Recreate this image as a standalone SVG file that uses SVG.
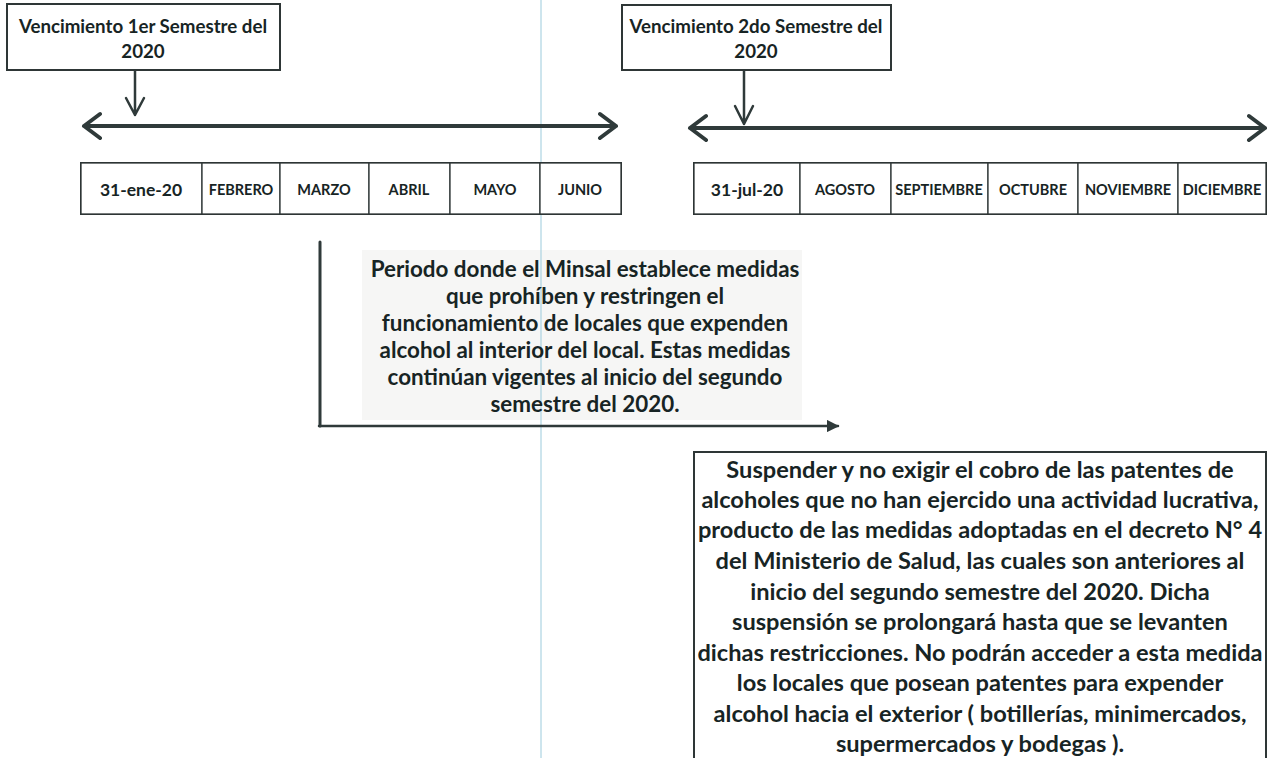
<svg xmlns="http://www.w3.org/2000/svg" width="1269" height="758" viewBox="0 0 1269 758">
<style>
  text { font-family: Lato, "Open Sans", "Liberation Sans", sans-serif; font-weight: bold; fill: #172424; text-anchor: middle; }
  .title { font-size: 18.7px; }
  .date { font-size: 17.5px; }
  .month { font-size: 14.5px; }
  .mid { font-size: 22.4px; }
  .body { font-size: 23.6px; }
  .box { fill: #ffffff; stroke: #2e3636; stroke-width: 2; }
  .cell { fill: #ffffff; stroke: #2e3636; stroke-width: 1.3; }
  .arr { stroke: #2f3a3a; fill: none; stroke-linecap: round; stroke-linejoin: round; }
</style>
<defs>
  <marker id="tri" viewBox="0 0 10 10" refX="9" refY="5" markerWidth="5" markerHeight="5" orient="auto" markerUnits="strokeWidth">
    <path d="M0,0 L10,5 L0,10 Z" fill="#2f3a3a"/>
  </marker>
</defs>
<rect width="1269" height="758" fill="#ffffff"/>
<rect x="362" y="250" width="440" height="170" fill="#f6f6f5"/>
<line x1="541" y1="0" x2="541" y2="758" stroke="#9ccbdc" stroke-width="1"/>

<g id="box-sem1">
  <rect class="box" x="7" y="4" width="273" height="66"/>
  <text class="title" x="143" y="33">Vencimiento 1er Semestre del</text>
  <text class="title" x="143" y="58">2020</text>
</g>
<g id="box-sem2">
  <rect class="box" x="622" y="5" width="269" height="65"/>
  <text class="title" x="756" y="33">Vencimiento 2do Semestre del</text>
  <text class="title" x="756" y="58">2020</text>
</g>

<g id="timeline1">
  <rect x="81" y="163" width="540" height="51" fill="#fff" stroke="#2e3636" stroke-width="2"/>
  <rect class="cell" x="81" y="163" width="121" height="51" stroke-width="2"/>
  <rect class="cell" x="202" y="163" width="78" height="51"/>
  <rect class="cell" x="280" y="163" width="89" height="51"/>
  <rect class="cell" x="369" y="163" width="81" height="51"/>
  <rect class="cell" x="450" y="163" width="90" height="51"/>
  <rect class="cell" x="540" y="163" width="81" height="51"/>
  <text class="date" x="141" y="196">31-ene-20</text>
  <text class="month" x="241" y="195">FEBRERO</text>
  <text class="month" x="324" y="195">MARZO</text>
  <text class="month" x="409" y="195">ABRIL</text>
  <text class="month" x="495" y="195">MAYO</text>
  <text class="month" x="580" y="195">JUNIO</text>
</g>

<g id="timeline2">
  <rect x="694" y="163" width="572" height="51" fill="#fff" stroke="#2e3636" stroke-width="2"/>
  <rect class="cell" x="694" y="163" width="106" height="51" stroke-width="2"/>
  <rect class="cell" x="800" y="163" width="91" height="51"/>
  <rect class="cell" x="891" y="163" width="97" height="51"/>
  <rect class="cell" x="988" y="163" width="90" height="51"/>
  <rect class="cell" x="1078" y="163" width="100" height="51"/>
  <rect class="cell" x="1178" y="163" width="88" height="51"/>
  <text class="date" x="747" y="196">31-jul-20</text>
  <text class="month" x="845" y="195">AGOSTO</text>
  <text class="month" x="939" y="195">SEPTIEMBRE</text>
  <text class="month" x="1033" y="195">OCTUBRE</text>
  <text class="month" x="1128" y="195">NOVIEMBRE</text>
  <text class="month" x="1222" y="195">DICIEMBRE</text>
</g>

<g id="text-periodo">
  <text class="mid" x="585" y="277">Periodo donde el Minsal establece medidas</text>
  <text class="mid" x="585" y="304">que prohíben y restringen el</text>
  <text class="mid" x="585" y="331">funcionamiento de locales que expenden</text>
  <text class="mid" x="585" y="358">alcohol al interior del local. Estas medidas</text>
  <text class="mid" x="585" y="385">continúan vigentes al inicio del segundo</text>
  <text class="mid" x="585" y="412">semestre del 2020.</text>
</g>

<g id="box-suspender">
  <rect class="box" x="694" y="452" width="572" height="320"/>
  <text class="body" x="980" y="478">Suspender y no exigir el cobro de las patentes de</text>
  <text class="body" x="980" y="508">alcoholes que no han ejercido una actividad lucrativa,</text>
  <text class="body" x="980" y="538">producto de las medidas adoptadas en el decreto N° 4</text>
  <text class="body" x="980" y="569">del Ministerio de Salud, las cuales son anteriores al</text>
  <text class="body" x="980" y="600">inicio del segundo semestre del 2020. Dicha</text>
  <text class="body" x="980" y="630">suspensión se prolongará hasta que se levanten</text>
  <text class="body" x="980" y="661">dichas restricciones. No podrán acceder a esta medida</text>
  <text class="body" x="980" y="691">los locales que posean patentes para expender</text>
  <text class="body" x="980" y="722">alcohol hacia el exterior ( botillerías, minimercados,</text>
  <text class="body" x="980" y="752">supermercados y bodegas ).</text>
</g>

<g id="connectors">
  <path class="arr" d="M135,71 V115 M126,98 L135,115 L144,98" stroke-width="2.5"/>
  <path class="arr" d="M84,126 H616 M100,114 L84,126 L100,138 M600,114 L616,126 L600,138" stroke-width="4"/>
  <path class="arr" d="M744,71 V124 M735,106 L744,124 L753,106" stroke-width="2.5"/>
  <path class="arr" d="M690,128 H1265 M706,116 L690,128 L706,140 M1249,116 L1265,128 L1249,140" stroke-width="4"/>
  <path class="arr" d="M320,242 V426" stroke-width="3" stroke-linecap="butt"/>
  <path class="arr" d="M319,426 H838" stroke-width="2.5" stroke-linecap="butt" marker-end="url(#tri)"/>
</g>
</svg>
